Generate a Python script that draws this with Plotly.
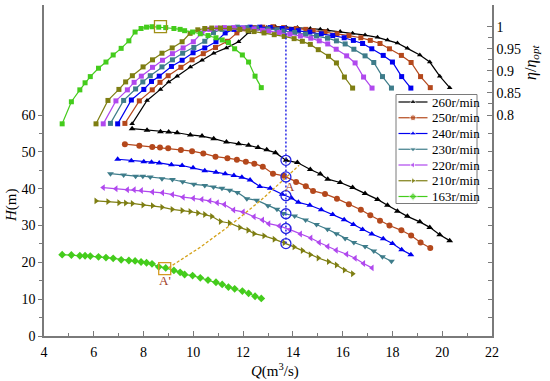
import plotly.graph_objects as go

# ---------------- data ----------------
speeds = ["260r/min", "250r/min", "240r/min", "230r/min", "220r/min", "210r/min", "163r/min"]

Q260 = [7.54, 8.14, 8.68, 9.01, 9.35, 9.88, 10.35, 10.82, 11.33, 11.82, 12.22, 12.60, 12.95, 13.30, 13.73,
        14.18, 14.70, 15.10, 15.40, 15.90, 16.40, 16.90, 17.40, 17.80, 18.20, 18.60, 19.10, 19.50, 19.90, 20.30]
H260 = [56.3, 55.9, 55.5, 55.4, 55.2, 54.6, 54.3, 53.6, 52.7, 52.2, 51.8, 51.2, 50.6, 49.8, 47.7,
        47.1, 45.2, 44.0, 42.6, 41.7, 40.3, 38.7, 37.1, 35.5, 33.9, 32.5, 31.0, 29.5, 27.5, 25.9]
E260 = [0.780, 0.833, 0.858, 0.875, 0.888, 0.909, 0.924, 0.940, 0.952, 0.966, 0.987, 0.995, 0.998, 1.000, 0.999,
        0.998, 0.996, 0.994, 0.992, 0.989, 0.985, 0.981, 0.976, 0.970, 0.963, 0.951, 0.936, 0.920, 0.888, 0.862]

Q250 = [7.25, 7.83, 8.35, 8.66, 8.99, 9.50, 9.95, 10.40, 10.89, 11.37, 11.75, 12.11, 12.45, 12.79, 13.20,
        13.63, 14.13, 14.52, 14.81, 15.29, 15.77, 16.25, 16.73, 17.11, 17.50, 17.88, 18.36, 18.75, 19.13, 19.52]
H250 = [52.1, 51.7, 51.3, 51.2, 51.0, 50.5, 50.2, 49.6, 48.7, 48.3, 47.9, 47.3, 46.8, 46.0, 44.1,
        43.5, 41.8, 40.7, 39.4, 38.6, 37.3, 35.8, 34.3, 32.8, 31.3, 30.0, 28.7, 27.3, 25.4, 23.9]
E250 = [0.781, 0.832, 0.857, 0.874, 0.889, 0.908, 0.925, 0.939, 0.953, 0.967, 0.986, 0.995, 0.998, 0.999, 1.000,
        0.998, 0.996, 0.994, 0.991, 0.988, 0.984, 0.980, 0.975, 0.969, 0.962, 0.950, 0.935, 0.919, 0.887, 0.862]

Q240 = [6.96, 7.51, 8.01, 8.32, 8.63, 9.12, 9.55, 9.99, 10.46, 10.91, 11.28, 11.63, 11.95, 12.28, 12.67,
        13.09, 13.57, 13.94, 14.22, 14.68, 15.14, 15.60, 16.06, 16.43, 16.80, 17.17, 17.63, 18.00, 18.37, 18.74]
H240 = [48.0, 47.6, 47.3, 47.2, 47.0, 46.5, 46.3, 45.7, 44.9, 44.5, 44.1, 43.6, 43.1, 42.4, 40.6,
        40.1, 38.5, 37.5, 36.3, 35.5, 34.3, 33.0, 31.6, 30.3, 28.9, 27.7, 26.4, 25.1, 23.4, 22.1]
E240 = [0.780, 0.834, 0.858, 0.876, 0.888, 0.910, 0.924, 0.941, 0.952, 0.966, 0.986, 0.994, 0.997, 0.999, 0.999,
        0.998, 0.996, 0.993, 0.991, 0.988, 0.984, 0.980, 0.975, 0.969, 0.962, 0.950, 0.935, 0.920, 0.887, 0.861]

Q230 = [6.67, 7.20, 7.68, 7.97, 8.27, 8.74, 9.16, 9.57, 10.02, 10.46, 10.81, 11.15, 11.46, 11.77, 12.15,
        12.54, 13.00, 13.36, 13.62, 14.07, 14.51, 14.95, 15.39, 15.75, 16.10, 16.45, 16.90, 17.25, 17.60, 17.96]
H230 = [44.1, 43.7, 43.4, 43.4, 43.2, 42.7, 42.5, 41.9, 41.2, 40.9, 40.5, 40.1, 39.6, 39.0, 37.3,
        36.9, 35.4, 34.4, 33.3, 32.6, 31.5, 30.3, 29.0, 27.8, 26.5, 25.4, 24.3, 23.1, 21.5, 20.3]
E230 = [0.781, 0.833, 0.859, 0.875, 0.889, 0.909, 0.925, 0.940, 0.953, 0.967, 0.987, 0.994, 0.997, 0.999, 0.998,
        0.997, 0.995, 0.993, 0.990, 0.987, 0.983, 0.979, 0.974, 0.968, 0.961, 0.949, 0.934, 0.919, 0.887, 0.861]

Q220 = [6.38, 6.89, 7.35, 7.62, 7.91, 8.36, 8.76, 9.16, 9.59, 10.00, 10.34, 10.66, 10.96, 11.25, 11.62,
        12.00, 12.44, 12.78, 13.03, 13.45, 13.88, 14.30, 14.72, 15.06, 15.40, 15.74, 16.16, 16.50, 16.84, 17.18]
H220 = [40.3, 40.0, 39.7, 39.7, 39.5, 39.1, 38.9, 38.4, 37.7, 37.4, 37.1, 36.7, 36.2, 35.7, 34.2,
        33.7, 32.4, 31.5, 30.5, 29.9, 28.9, 27.7, 26.6, 25.4, 24.3, 23.3, 22.2, 21.1, 19.7, 18.5]
E220 = [0.780, 0.832, 0.857, 0.874, 0.888, 0.908, 0.924, 0.939, 0.952, 0.966, 0.986, 0.994, 0.997, 0.998, 0.998,
        0.997, 0.995, 0.992, 0.990, 0.987, 0.983, 0.979, 0.974, 0.968, 0.961, 0.949, 0.934, 0.918, 0.886, 0.861]

Q210 = [6.09, 6.57, 7.01, 7.28, 7.55, 7.98, 8.36, 8.74, 9.15, 9.55, 9.87, 10.18, 10.46, 10.74, 11.09,
        11.45, 11.87, 12.20, 12.44, 12.84, 13.25, 13.65, 14.05, 14.38, 14.70, 15.02, 15.43, 15.75, 16.07, 16.40]
H210 = [36.7, 36.5, 36.2, 36.1, 36.0, 35.6, 35.4, 35.0, 34.4, 34.1, 33.8, 33.4, 33.0, 32.5, 31.1,
        30.7, 29.5, 28.7, 27.8, 27.2, 26.3, 25.3, 24.2, 23.2, 22.1, 21.2, 20.2, 19.3, 17.9, 16.9]
E210 = [0.780, 0.833, 0.858, 0.875, 0.889, 0.909, 0.925, 0.940, 0.952, 0.966, 0.985, 0.993, 0.996, 0.997, 0.997,
        0.996, 0.994, 0.991, 0.989, 0.986, 0.982, 0.978, 0.973, 0.967, 0.960, 0.948, 0.933, 0.918, 0.886, 0.861]

Q163 = [4.73, 5.10, 5.44, 5.65, 5.86, 6.19, 6.49, 6.78, 7.10, 7.41, 7.66, 7.90, 8.12, 8.34, 8.61,
        8.89, 9.22, 9.47, 9.65, 9.97, 10.28, 10.59, 10.91, 11.16, 11.41, 11.66, 11.97, 12.22, 12.48, 12.73]
H163 = [22.1, 22.0, 21.8, 21.8, 21.7, 21.5, 21.3, 21.1, 20.7, 20.5, 20.4, 20.1, 19.9, 19.6, 18.8,
        18.5, 17.8, 17.3, 16.7, 16.4, 15.8, 15.2, 14.6, 14.0, 13.3, 12.8, 12.2, 11.6, 10.8, 10.2]
E163 = [0.780, 0.830, 0.857, 0.873, 0.887, 0.906, 0.920, 0.936, 0.951, 0.968, 0.988, 0.996, 0.999, 1.000, 0.999,
        0.998, 0.996, 0.994, 0.991, 0.988, 0.984, 0.980, 0.975, 0.970, 0.964, 0.950, 0.936, 0.920, 0.888, 0.862]

# similarity point A (250 r/min) and A' (163 r/min), marked circles at Q_A
QA = 13.72
HA_circles = [47.7, 43.2, 38.1, 33.2, 29.2, 25.1]
QA2, HA2 = 8.85, 18.3
Q_opt163, E_opt163 = 8.68, 1.0
# similarity parabola through A' and A
Q_par = [9.0, 10.3, 11.62, 12.7, 13.72, 14.25]
H_par = [18.5, 24.2, 30.8, 36.8, 43.0, 46.4]

# ---------------- styles ----------------
colors = ["#000000", "#B4481C", "#0000F0", "#3E7C8A", "#B048EE", "#7E7E12", "#44CC1C"]
h_symbols = ["triangle-up", "circle", "triangle-up", "triangle-down", "triangle-left", "triangle-right", "diamond"]
e_symbols = ["triangle-up", "square", "square", "square", "square", "square", "square"]

Qs = [Q260, Q250, Q240, Q230, Q220, Q210, Q163]
Hs = [H260, H250, H240, H230, H220, H210, H163]
Es = [E260, E250, E240, E230, E220, E210, E163]

FONT = "Liberation Serif"

fig = go.Figure()

for i in range(len(speeds)):
    fig.add_trace(go.Scatter(x=Qs[i], y=Es[i], yaxis="y2", mode="lines+markers",
                             line=dict(color=colors[i], width=1.2),
                             marker=dict(symbol=e_symbols[i], size=5, color=colors[i]),
                             showlegend=False, name=speeds[i]))
for i in range(len(speeds)):
    fig.add_trace(go.Scatter(x=Qs[i], y=Hs[i], mode="lines+markers",
                             line=dict(color=colors[i], width=1.2),
                             marker=dict(symbol=h_symbols[i], size=6, color=colors[i]),
                             showlegend=False, name=speeds[i]))

# similarity parabola
fig.add_trace(go.Scatter(x=Q_par, y=H_par, mode="lines",
                         line=dict(color="#D4A21A", width=1.3, dash="3px,2px"), showlegend=False))
# vertical line at Q_A
fig.add_shape(type="line", xref="x", yref="y", x0=QA, x1=QA, y0=min(HA_circles), y1=84.6,
              line=dict(color="#2828E8", width=1.5, dash="2px,2px"))
# circles
fig.add_trace(go.Scatter(x=[QA] * len(HA_circles), y=HA_circles, mode="markers",
                         marker=dict(symbol="circle-open", size=10, color="#2424E0", line=dict(width=1.3)),
                         showlegend=False))
# squares at A' and at optimum of 163 r/min
fig.add_trace(go.Scatter(x=[QA2], y=[HA2], mode="markers",
                         marker=dict(symbol="square-open", size=12, color="#D49A20", line=dict(width=1.3)),
                         showlegend=False))
fig.add_trace(go.Scatter(x=[Q_opt163], y=[E_opt163], yaxis="y2", mode="markers",
                         marker=dict(symbol="square-open", size=12, color="#A09018", line=dict(width=1.3)),
                         showlegend=False))

fig.add_annotation(x=13.9, y=40.6, xref="x", yref="y", text="A", showarrow=False,
                   xanchor="center", yanchor="middle",
                   font=dict(family=FONT, size=13, color="#A04028"))
fig.add_annotation(x=8.85, y=15.1, xref="x", yref="y", text="A'", showarrow=False,
                   xanchor="center", yanchor="middle",
                   font=dict(family=FONT, size=13, color="#A04028"))

# ---------------- custom legend (pixel overlay axes) ----------------
leg_y0 = 102.0
leg_dy = 15.75
fig.add_shape(type="rect", xref="x3", yref="y3", x0=396, x1=477, y0=94.5, y1=203.5,
              line=dict(color="#7a7a7a", width=1), fillcolor="white", layer="below")
for i in range(len(speeds)):
    yy = leg_y0 + leg_dy * i
    fig.add_trace(go.Scatter(x=[398.5, 413, 427.5], y=[yy, yy, yy], xaxis="x3", yaxis="y3",
                             mode="lines+markers", line=dict(color=colors[i], width=1.2),
                             marker=dict(symbol=h_symbols[i], size=[0, 6, 0], color=colors[i]),
                             showlegend=False, hoverinfo="skip"))
    fig.add_annotation(x=430, y=yy, xref="x3", yref="y3", text=speeds[i], showarrow=False,
                       xanchor="left", yanchor="middle", font=dict(family=FONT, size=13, color="black"))

# ---------------- axes ----------------
AX = "#7a7a7a"
low_ticks = [0.7584, 0.7166, 0.6748, 0.6331, 0.5914, 0.5498, 0.5081, 0.4664, 0.4245, 0.3828, 0.3412]

fig.update_layout(
    width=550, height=381,
    margin=dict(l=44, r=58, t=5, b=45),
    paper_bgcolor="white", plot_bgcolor="white",
    font=dict(family=FONT, size=14, color="black"),
    showlegend=False,
    xaxis=dict(range=[4, 22], tickmode="array", tickvals=list(range(4, 23, 2)),
               ticks="inside", ticklen=5, tickcolor=AX, showline=True, linecolor=AX, linewidth=1.5,
               showgrid=False, zeroline=False, ticklabelstandoff=2,
               minor=dict(tickvals=list(range(5, 22, 2)), ticks="inside", ticklen=3, tickcolor=AX),
               tickfont=dict(family=FONT, size=14, color="black")),
    yaxis=dict(range=[0, 89.9], tickmode="array", tickvals=[0, 10, 20, 30, 40, 50, 60],
               ticks="outside", ticklen=4, tickcolor=AX, showline=True, linecolor=AX, linewidth=1.5,
               showgrid=False, zeroline=False,
               minor=dict(tickvals=[5, 15, 25, 35, 45, 55], ticks="outside", ticklen=3, tickcolor=AX),
               tickfont=dict(family=FONT, size=14, color="black")),
    yaxis2=dict(range=[0.2994, 1.0492], overlaying="y", side="right", anchor="x",
                tickmode="array", tickvals=[0.8, 0.85, 0.9, 0.95, 1.0],
                ticktext=["0.8", "0.85", "0.9", "0.95", "1"],
                ticks="inside", ticklen=5, tickcolor=AX, showline=True, linecolor=AX, linewidth=1.5,
                showgrid=False, zeroline=False,
                minor=dict(tickvals=[0.825, 0.875, 0.925, 0.975] + low_ticks, ticks="inside",
                           ticklen=4, tickcolor=AX),
                tickfont=dict(family=FONT, size=14, color="black")),
    xaxis3=dict(range=[44, 492], overlaying="x", anchor="y3", visible=False, fixedrange=True),
    yaxis3=dict(range=[336, 5], overlaying="y", anchor="x3", visible=False, fixedrange=True),
)

fig.add_annotation(x=0.5156, y=-0.1057, xref="paper", yref="paper", showarrow=False,
                   xanchor="center", yanchor="middle",
                   text="<i>Q</i>(m<sup>3</sup>/s)", font=dict(family=FONT, size=15))
fig.add_annotation(x=-0.0714, y=0.3958, xref="paper", yref="paper", showarrow=False, textangle=-90,
                   xanchor="center", yanchor="middle",
                   text="<i>H</i>(m)", font=dict(family=FONT, size=15))
fig.add_annotation(x=1.0893, y=0.8278, xref="paper", yref="paper", showarrow=False, textangle=-90,
                   xanchor="center", yanchor="middle",
                   text="<i>η</i>/<i>η</i><sub><i>opt</i></sub>", font=dict(family=FONT, size=16))

fig.write_html("out.html", config={"displayModeBar": False},
               post_script="document.body.style.margin='0px';")
